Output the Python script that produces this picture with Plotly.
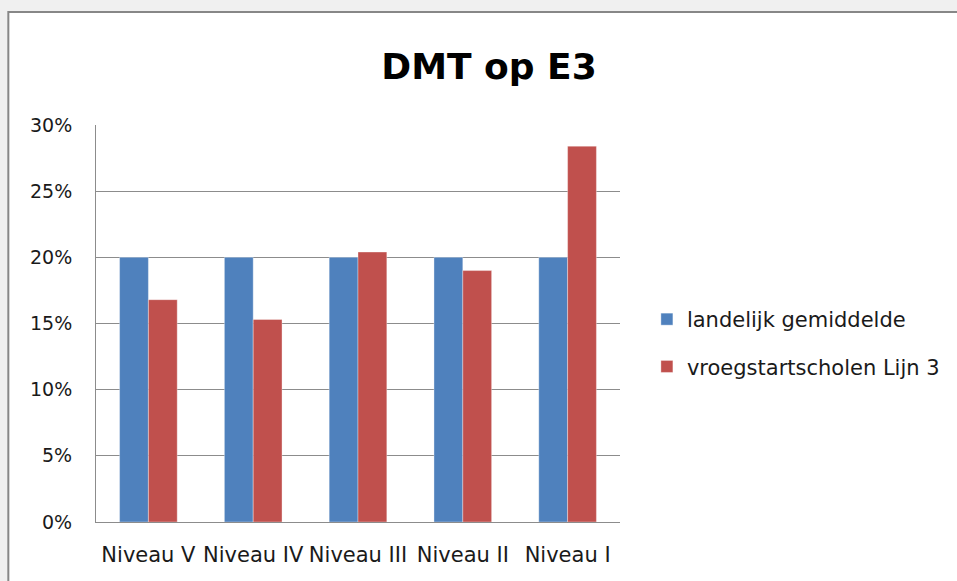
import plotly.graph_objects as go

categories = ["Niveau V", "Niveau IV", "Niveau III", "Niveau II", "Niveau I"]
landelijk = [20, 20, 20, 20, 20]
vroegstart = [16.8, 15.3, 20.4, 19.0, 28.4]
series_names = ["landelijk gemiddelde", "vroegstartscholen Lijn 3"]
y_ticks = [0, 5, 10, 15, 20, 25, 30]

FONT = "DejaVu Sans"
W, H = 957, 581
L, R, T, B = 96, 335, 125, 59
pw, ph = W - L - R, H - T - B

def px_x(x):
    return (x - L) / pw

def px_y(y):
    return (H - B - y) / ph

fig = go.Figure()
fig.add_trace(go.Bar(x=categories, y=landelijk, name=series_names[0], legendgroup="a",
                     marker=dict(color="#4F81BD", line=dict(color="rgba(255,255,255,0.35)", width=1))))
fig.add_trace(go.Bar(x=categories, y=vroegstart, name=series_names[1], legendgroup="b",
                     marker=dict(color="#C0504D", line=dict(color="rgba(255,255,255,0.35)", width=1))))

fig.update_layout(
    width=W, height=H,
    margin=dict(l=L, r=R, t=T, b=B),
    paper_bgcolor="#f0f0f0",
    plot_bgcolor="rgba(0,0,0,0)",
    barmode="group",
    bargap=0.45,
    bargroupgap=0,
    font=dict(family=FONT, size=20, color="#1a1a1a"),
    title=dict(text="<b>DMT op E3</b>", x=489 / W, xanchor="center", y=1 - 66 / H, yanchor="middle",
               font=dict(family=FONT, size=36, color="#000000")),
    legend=dict(x=px_x(649), xanchor="left", y=px_y(343), yanchor="middle",
                traceorder="grouped", tracegroupgap=17,
                font=dict(family=FONT, size=21, color="#1a1a1a"), bgcolor="rgba(0,0,0,0)"),
    xaxis=dict(showline=True, linecolor="#8c8c8c", linewidth=1, showgrid=False,
               ticks="outside", ticklen=14, tickcolor="rgba(0,0,0,0)",
               tickfont=dict(family=FONT, size=21, color="#1a1a1a")),
    yaxis=dict(range=[0, 30], tickvals=y_ticks, ticktext=[f"{v}%" for v in y_ticks],
               showline=True, linecolor="#8c8c8c", linewidth=1,
               showgrid=True, gridcolor="#8c8c8c", gridwidth=1, zeroline=False,
               ticks="outside", ticklen=19, tickcolor="rgba(0,0,0,0)",
               tickfont=dict(family=FONT, size=19, color="#1a1a1a")),
    shapes=[dict(type="rect", xref="paper", yref="paper", layer="below",
                 x0=px_x(8), x1=px_x(1000), y0=px_y(620), y1=px_y(12),
                 fillcolor="white", line=dict(color="#878787", width=2))],
)

fig.write_html("out.html", config={"displayModeBar": False},
               post_script="document.body.style.margin='0';document.body.style.background='#ffffff';")
